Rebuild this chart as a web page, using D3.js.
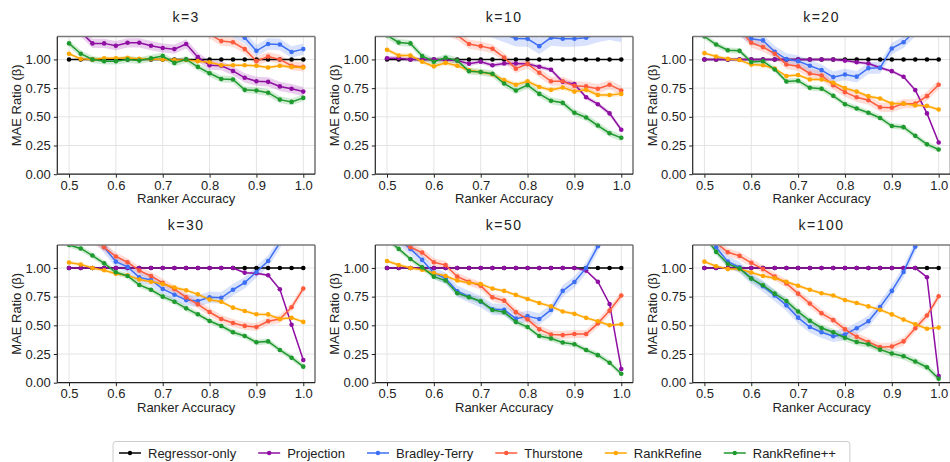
<!DOCTYPE html>
<html>
<head>
<meta charset="utf-8">
<script src="https://cdn.jsdelivr.net/npm/d3@7"></script>
<style>
  html, body { margin: 0; padding: 0; background: #fff; }
  svg { display: block; font-family: "Liberation Sans", Arial, sans-serif; }
</style>
</head>
<body>
<svg id="chart" width="950" height="462"></svg>
<script>
// Ranker accuracy grid shared by every panel
const accuracy = [0.5, 0.525, 0.55, 0.575, 0.6, 0.625, 0.65, 0.675, 0.7, 0.725, 0.75,
                  0.775, 0.8, 0.825, 0.85, 0.875, 0.9, 0.925, 0.95, 0.975, 1.0];

const panelTitles = ["k=3", "k=10", "k=20", "k=30", "k=50", "k=100"];
const seriesNames = ["Regressor-only", "Projection", "Bradley-Terry", "Thurstone", "RankRefine", "RankRefine++"];
const xTickValues = [0.5, 0.6, 0.7, 0.8, 0.9, 1.0];
const yTickValues = [0, 0.25, 0.5, 0.75, 1.0];

// MAE ratio per method (values above 1.2 run off the top of each panel)
const regressorOnly = [1, 1, 1, 1, 1, 1, 1, 1, 1, 1, 1, 1, 1, 1, 1, 1, 1, 1, 1, 1, 1];

const k3Projection = [1.30, 1.24, 1.14, 1.14, 1.12, 1.145, 1.145, 1.12, 1.10, 1.09, 1.135, 1.02, 0.95, 0.945, 0.90, 0.84, 0.81, 0.805, 0.765, 0.745, 0.72];
const k3Bradley    = [1.62, 1.60, 1.58, 1.55, 1.55, 1.52, 1.50, 1.48, 1.47, 1.45, 1.42, 1.38, 1.33, 1.28, 1.24, 1.19, 1.075, 1.135, 1.13, 1.065, 1.09];
const k3Thurstone  = [1.55, 1.52, 1.50, 1.48, 1.46, 1.44, 1.42, 1.40, 1.38, 1.35, 1.32, 1.28, 1.22, 1.16, 1.15, 1.09, 0.985, 1.025, 1.00, 0.945, 0.935];
const k3RankRefine = [1.05, 1.005, 1.00, 1.01, 1.01, 1.015, 1.005, 1.005, 1.00, 0.995, 0.995, 0.985, 0.975, 0.95, 0.95, 0.95, 0.945, 0.93, 0.945, 0.935, 0.93];
const k3RankRefinePP = [1.14, 1.05, 1.00, 0.985, 0.985, 1.00, 0.99, 1.01, 1.03, 0.97, 1.00, 0.935, 0.88, 0.83, 0.825, 0.735, 0.73, 0.71, 0.65, 0.63, 0.665];

const k10Projection = [1.01, 1.01, 1.00, 1.00, 1.00, 0.995, 0.99, 0.962, 0.98, 0.95, 0.965, 0.965, 0.96, 0.936, 0.91, 0.805, 0.785, 0.67, 0.61, 0.53, 0.387];
const k10Bradley    = [1.45, 1.42, 1.40, 1.38, 1.36, 1.34, 1.32, 1.30, 1.28, 1.26, 1.22, 1.183, 1.18, 1.116, 1.19, 1.18, 1.18, 1.19, 1.22, 1.24, 1.22];
const k10Thurstone  = [1.40, 1.36, 1.32, 1.28, 1.23, 1.25, 1.21, 1.134, 1.116, 1.093, 1.017, 0.92, 0.962, 0.884, 0.81, 0.81, 0.77, 0.765, 0.745, 0.78, 0.73];
const k10RankRefine = [1.085, 1.035, 1.035, 0.98, 0.94, 0.97, 0.945, 0.905, 0.89, 0.87, 0.82, 0.78, 0.81, 0.76, 0.735, 0.755, 0.72, 0.735, 0.69, 0.69, 0.70];
const k10RankRefinePP = [1.21, 1.148, 1.14, 1.03, 0.98, 1.015, 0.99, 0.898, 0.89, 0.875, 0.79, 0.73, 0.776, 0.70, 0.64, 0.622, 0.535, 0.494, 0.424, 0.357, 0.317];

const k20Projection = [1, 1, 1, 1, 1, 1, 1, 1, 1, 1, 1, 1, 0.99, 0.975, 0.965, 0.927, 0.898, 0.849, 0.733, 0.53, 0.276];
const k20Bradley    = [1.45, 1.40, 1.35, 1.25, 1.18, 1.166, 1.067, 1.003, 0.985, 0.945, 0.907, 0.846, 0.869, 0.85, 0.924, 0.927, 1.096, 1.15, 1.25, 1.35, 1.45];
const k20Thurstone  = [1.38, 1.32, 1.30, 1.26, 1.145, 1.107, 1.05, 0.956, 0.94, 0.878, 0.86, 0.776, 0.715, 0.67, 0.645, 0.584, 0.58, 0.615, 0.615, 0.68, 0.78];
const k20RankRefine = [1.055, 1.025, 1.005, 0.995, 0.955, 0.95, 0.92, 0.855, 0.865, 0.825, 0.825, 0.797, 0.75, 0.72, 0.68, 0.66, 0.616, 0.615, 0.60, 0.595, 0.564];
const k20RankRefinePP = [1.20, 1.13, 1.08, 1.075, 0.977, 0.985, 0.913, 0.808, 0.815, 0.753, 0.745, 0.683, 0.61, 0.573, 0.535, 0.49, 0.42, 0.41, 0.334, 0.26, 0.215];

const k30Projection = [1, 1, 1, 1, 1, 1, 1, 1, 1, 1, 1, 1, 1, 1, 1, 0.959, 0.954, 0.936, 0.814, 0.505, 0.198];
const k30Bradley    = [1.45, 1.38, 1.30, 1.18, 1.055, 1.009, 0.918, 0.895, 0.817, 0.767, 0.72, 0.712, 0.744, 0.74, 0.81, 0.872, 0.965, 1.06, 1.22, 1.40, 1.55];
const k30Thurstone  = [1.40, 1.32, 1.25, 1.18, 1.10, 1.05, 0.977, 0.93, 0.87, 0.815, 0.744, 0.683, 0.616, 0.555, 0.52, 0.495, 0.485, 0.535, 0.555, 0.657, 0.82];
const k30RankRefine = [1.047, 1.03, 1.00, 0.98, 0.95, 0.935, 0.90, 0.88, 0.86, 0.83, 0.805, 0.77, 0.724, 0.705, 0.654, 0.625, 0.596, 0.595, 0.555, 0.565, 0.53];
const k30RankRefinePP = [1.20, 1.17, 1.108, 1.04, 0.962, 0.93, 0.852, 0.81, 0.75, 0.706, 0.648, 0.596, 0.538, 0.494, 0.44, 0.407, 0.352, 0.36, 0.285, 0.218, 0.14];

const k50Projection = [1, 1, 1, 1, 1, 1, 1, 1, 1, 1, 1, 1, 1, 1, 1, 1, 1, 0.977, 0.88, 0.686, 0.12];
const k50Bradley    = [1.35, 1.25, 1.166, 1.07, 0.955, 0.91, 0.797, 0.75, 0.705, 0.64, 0.635, 0.558, 0.58, 0.555, 0.634, 0.80, 0.878, 1.00, 1.19, 1.40, 1.60];
const k50Thurstone  = [1.35, 1.26, 1.18, 1.134, 1.05, 1.025, 0.924, 0.88, 0.845, 0.744, 0.715, 0.615, 0.552, 0.465, 0.42, 0.415, 0.425, 0.425, 0.517, 0.628, 0.76];
const k50RankRefine = [1.06, 1.025, 1.00, 0.985, 0.955, 0.93, 0.89, 0.87, 0.86, 0.82, 0.80, 0.765, 0.73, 0.695, 0.665, 0.62, 0.60, 0.565, 0.535, 0.50, 0.51];
const k50RankRefinePP = [1.25, 1.166, 1.078, 1.005, 0.924, 0.89, 0.78, 0.745, 0.71, 0.634, 0.615, 0.53, 0.485, 0.407, 0.385, 0.35, 0.335, 0.285, 0.24, 0.174, 0.078];

const k100Projection = [1, 1, 1, 1, 1, 1, 1, 1, 1, 1, 1, 1, 1, 1, 1, 1, 1, 1, 1, 0.919, 0.058];
const k100Bradley    = [1.35, 1.18, 1.055, 1.005, 0.91, 0.84, 0.76, 0.674, 0.567, 0.485, 0.44, 0.405, 0.42, 0.475, 0.535, 0.66, 0.80, 0.965, 1.186, 1.40, 1.60];
const k100Thurstone  = [1.35, 1.22, 1.137, 1.105, 1.045, 0.99, 0.925, 0.865, 0.776, 0.69, 0.605, 0.545, 0.465, 0.40, 0.355, 0.31, 0.315, 0.36, 0.474, 0.585, 0.753];
const k100RankRefine = [1.055, 1.015, 0.99, 0.99, 0.96, 0.93, 0.91, 0.88, 0.845, 0.81, 0.78, 0.76, 0.72, 0.695, 0.665, 0.635, 0.595, 0.55, 0.51, 0.47, 0.48];
const k100RankRefinePP = [1.28, 1.14, 1.035, 0.995, 0.907, 0.849, 0.776, 0.712, 0.62, 0.54, 0.477, 0.44, 0.392, 0.355, 0.335, 0.288, 0.255, 0.23, 0.185, 0.135, 0.035];

// Typical half-width of the shaded spread, per method, for each panel
const k3Spread   = [0.005, 0.04, 0.05, 0.04, 0.015, 0.03];
const k10Spread  = [0.005, 0.02, 0.07, 0.04, 0.02, 0.03];
const k20Spread  = [0.005, 0.015, 0.05, 0.04, 0.015, 0.025];
const k30Spread  = [0.005, 0.01, 0.05, 0.035, 0.015, 0.025];
const k50Spread  = [0.005, 0.01, 0.05, 0.035, 0.015, 0.025];
const k100Spread = [0.005, 0.01, 0.05, 0.035, 0.015, 0.03];

const seriesColors = ["#000000", "#8f0fa3", "#3d6ff5", "#ff5a3c", "#ffa600", "#1f9a2e"];

const panels = [
  { title: panelTitles[0], series: [regressorOnly, k3Projection, k3Bradley, k3Thurstone, k3RankRefine, k3RankRefinePP], spread: k3Spread },
  { title: panelTitles[1], series: [regressorOnly, k10Projection, k10Bradley, k10Thurstone, k10RankRefine, k10RankRefinePP], spread: k10Spread },
  { title: panelTitles[2], series: [regressorOnly, k20Projection, k20Bradley, k20Thurstone, k20RankRefine, k20RankRefinePP], spread: k20Spread },
  { title: panelTitles[3], series: [regressorOnly, k30Projection, k30Bradley, k30Thurstone, k30RankRefine, k30RankRefinePP], spread: k30Spread },
  { title: panelTitles[4], series: [regressorOnly, k50Projection, k50Bradley, k50Thurstone, k50RankRefine, k50RankRefinePP], spread: k50Spread },
  { title: panelTitles[5], series: [regressorOnly, k100Projection, k100Bradley, k100Thurstone, k100RankRefine, k100RankRefinePP], spread: k100Spread }
];

// Layout of the 2 x 3 grid
const colLeft = [57.3, 375.3, 692.7];
const rowTop = [36.5, 245];
const plotW = 257.7;
const plotH = 137.7;

const svg = d3.select("#chart");

panels.forEach((panel, i) => {
  const col = i % 3, row = Math.floor(i / 3);
  const g = svg.append("g").attr("transform", `translate(${colLeft[col]},${rowTop[row]})`);

  const x = d3.scaleLinear().domain([0.475, 1.025]).range([0, plotW]);
  const y = d3.scaleLinear().domain([0, 1.2]).range([plotH, 0]);

  // grid
  g.append("g").selectAll("line").data(xTickValues).join("line")
    .attr("x1", d => x(d)).attr("x2", d => x(d)).attr("y1", 0).attr("y2", plotH)
    .attr("stroke", "#e4e4e4").attr("stroke-width", 1);
  g.append("g").selectAll("line").data(yTickValues).join("line")
    .attr("x1", 0).attr("x2", plotW).attr("y1", d => y(d)).attr("y2", d => y(d))
    .attr("stroke", "#e4e4e4").attr("stroke-width", 1);

  const clipId = "clip" + i;
  g.append("clipPath").attr("id", clipId)
    .append("rect").attr("x", 0).attr("y", 0).attr("width", plotW).attr("height", plotH);

  const plot = g.append("g").attr("clip-path", `url(#${clipId})`);

  panel.series.forEach((vals, s) => {
    const pts = accuracy.map((a, j) => ({ a, v: vals[j] }));
    const hw = panel.spread[s];
    const area = d3.area()
      .x(d => x(d.a))
      .y0(d => y(d.v - hw))
      .y1(d => y(d.v + hw));
    plot.append("path").datum(pts)
      .attr("d", area)
      .attr("fill", seriesColors[s])
      .attr("fill-opacity", s === 0 ? 0.1 : 0.2)
      .attr("stroke", "none");
  });

  panel.series.forEach((vals, s) => {
    const pts = accuracy.map((a, j) => ({ a, v: vals[j] }));
    const line = d3.line().x(d => x(d.a)).y(d => y(d.v));
    plot.append("path").datum(pts)
      .attr("d", line)
      .attr("fill", "none")
      .attr("stroke", seriesColors[s])
      .attr("stroke-width", 1.5);
    plot.append("g").selectAll("circle").data(pts).join("circle")
      .attr("cx", d => x(d.a)).attr("cy", d => y(d.v)).attr("r", 2.3)
      .attr("fill", seriesColors[s]);
  });

  // axes
  const yAxis = g.append("g")
    .call(d3.axisLeft(y).tickValues(yTickValues).tickFormat(d3.format(".2f")).tickSize(3.5).tickPadding(3));
  const xAxis = g.append("g").attr("transform", `translate(0,${plotH})`)
    .call(d3.axisBottom(x).tickValues(xTickValues).tickFormat(d3.format(".1f")).tickSize(3.5).tickPadding(3));
  [xAxis, yAxis].forEach(ax => {
    ax.select(".domain").remove();
    ax.selectAll(".tick line").attr("stroke", "#222");
    ax.selectAll(".tick text").attr("fill", "#222").style("font-size", "13px")
      .style("font-family", "'Liberation Sans', Arial, sans-serif");
  });

  // frame
  g.append("line").attr("x1", 0).attr("x2", plotW).attr("y1", 0).attr("y2", 0)
    .attr("stroke", "#7a7a7a").attr("stroke-width", 1.6);
  g.append("line").attr("x1", plotW).attr("x2", plotW).attr("y1", 0).attr("y2", plotH)
    .attr("stroke", "#7a7a7a").attr("stroke-width", 1.6);
  g.append("line").attr("x1", 0).attr("x2", 0).attr("y1", 0).attr("y2", plotH)
    .attr("stroke", "#222").attr("stroke-width", 1.2);
  g.append("line").attr("x1", 0).attr("x2", plotW).attr("y1", plotH).attr("y2", plotH)
    .attr("stroke", "#222").attr("stroke-width", 1.2);

  // titles and axis labels
  g.append("text").attr("x", plotW / 2).attr("y", -19.5).attr("dy", "0.35em")
    .attr("text-anchor", "middle").style("font-size", "14px").style("letter-spacing", "1.5px")
    .attr("fill", "#222").text(panel.title);
  g.append("text").attr("x", plotW / 2).attr("y", plotH + 24.5).attr("dy", "0.35em")
    .attr("text-anchor", "middle").style("font-size", "13px").attr("fill", "#222")
    .text("Ranker Accuracy");
  g.append("text").attr("transform", `translate(-40.5,${plotH / 2}) rotate(-90)`)
    .attr("dy", "0.35em").attr("text-anchor", "middle").style("font-size", "13px").attr("fill", "#222")
    .text("MAE Ratio (β)");
});

// legend
const legend = svg.append("g").attr("transform", "translate(113,441.5)");
const legendBox = legend.append("rect")
  .attr("x", 0).attr("y", 0).attr("height", 24).attr("rx", 3)
  .attr("fill", "#fff").attr("stroke", "#cccccc").attr("stroke-width", 1);
let lx = 6;
const colGap = 22;
seriesNames.forEach((name, s) => {
  const item = legend.append("g");
  item.append("line").attr("x1", lx).attr("x2", lx + 22).attr("y1", 11.5).attr("y2", 11.5)
    .attr("stroke", seriesColors[s]).attr("stroke-width", 1.5);
  item.append("circle").attr("cx", lx + 11).attr("cy", 11.5).attr("r", 2.2).attr("fill", seriesColors[s]);
  const t = item.append("text").attr("x", lx + 29).attr("y", 11.5).attr("dy", "0.35em")
    .style("font-size", "13px").attr("fill", "#222").text(name);
  lx += 29 + t.node().getComputedTextLength() + colGap;
});
legendBox.attr("width", lx - colGap + 14);
</script>
</body>
</html>
